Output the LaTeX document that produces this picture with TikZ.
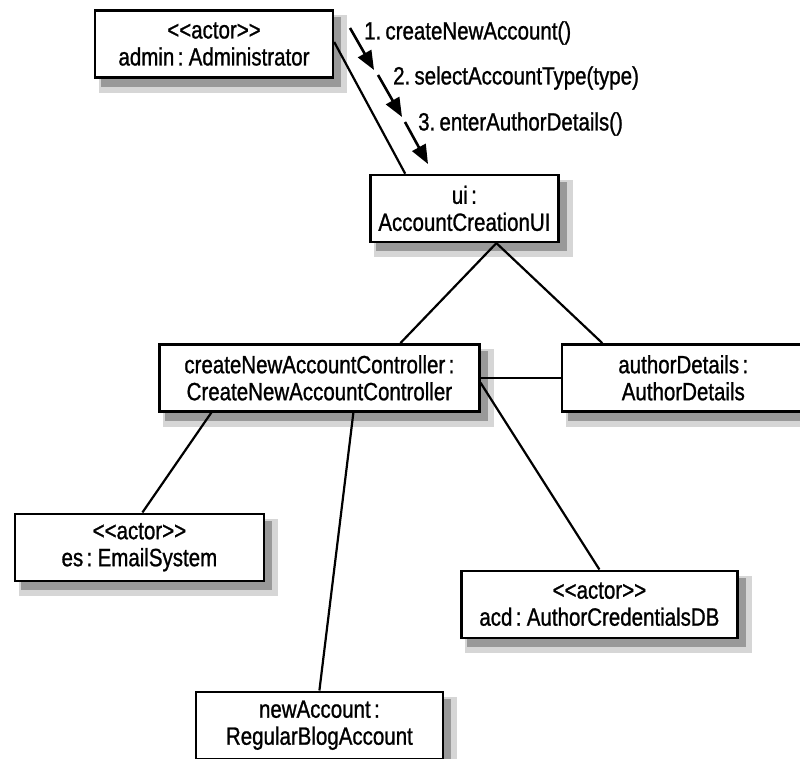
\documentclass[tikz,border=0pt]{standalone}
\usepackage{fontspec}
\setmainfont{Liberation Sans}[FakeStretch=0.82, WordSpace=0.6, FakeBold=1]
\usetikzlibrary{arrows.meta,positioning,calc,backgrounds}

\begin{document}
\begin{tikzpicture}[
  x=1pt, y=1pt,
  font=\fontsize{25}{27}\selectfont,
  obj/.style={draw, line width=2.4pt, fill=white, align=center, inner sep=0pt, minimum height=67pt},
  shade1/.style={fill=black!16, draw=black!16, line width=8pt},
  shade2/.style={fill=black!40},
  link/.style={line width=2.2pt},
  msgarrow/.style={-{Triangle[length=19pt, width=15pt]}, line width=2.6pt},
  msg/.style={inner sep=0pt}
]
\useasboundingbox (0,0) rectangle (800,-758);

\node[obj, minimum width=238pt] (admin) at (214,-44) {{<}{<}actor{>}{>}\\admin : Administrator};
\node[obj, minimum width=188pt, below right=95pt and 35pt of admin] (ui) {ui :\\AccountCreationUI};
\node[obj, minimum width=320pt, below=100pt of ui, xshift=-145pt] (ctrl)
  {createNewAccountController :\\CreateNewAccountController};
\node[obj, minimum width=243pt, right=80pt of ctrl] (details) {authorDetails :\\AuthorDetails};
\node[obj, minimum width=249pt, below=100pt of ctrl, xshift=-180pt] (email) {{<}{<}actor{>}{>}\\es : EmailSystem};
\node[obj, minimum width=276pt, below=157pt of ctrl, xshift=280pt] (creddb) {{<}{<}actor{>}{>}\\acd : AuthorCredentialsDB};
\node[obj, minimum width=247pt, below=278pt of ctrl] (account) {newAccount :\\RegularBlogAccount};

% shadows
\begin{scope}[on background layer]
\foreach \n in {admin,ui,ctrl,details,email,creddb,account} {
  \draw[shade1] ([shift={(9pt,-10pt)}]\n.south west) rectangle ([shift={(9pt,-10pt)}]\n.north east);
  \fill[shade2] ([shift={(7pt,-8pt)}]\n.south west) rectangle ([shift={(7pt,-8pt)}]\n.north east);
}
\end{scope}

\draw[link] ([yshift=2pt]admin.east) -- ([xshift=36pt]ui.north west);
\draw[link] ([xshift=32pt]ui.south) -- ([xshift=81pt]ctrl.north);
\draw[link] ([xshift=32pt]ui.south) -- ([xshift=-81pt]details.north);
\draw[link] (ctrl) -- (details);
\draw[link] ([yshift=-5pt]ctrl.east) -- (creddb.north);
\draw[link] ([xshift=-108pt]ctrl.south) -- ([xshift=3pt]email.north);
\draw[link] ([xshift=34pt]ctrl.south) -- (account.north);

% messages along admin -- ui
\coordinate (m1a) at (350,-28);
\coordinate (m1b) at (374,-70);
\coordinate (m2a) at (378,-75);
\coordinate (m2b) at (402,-117);
\coordinate (m3a) at (405,-122);
\coordinate (m3b) at (428,-164);
\draw[msgarrow] (m1a) -- (m1b);
\draw[msgarrow] (m2a) -- (m2b);
\draw[msgarrow] (m3a) -- (m3b);
\node[msg, anchor=west] (l1) at (364,-33) {1.\,createNewAccount()};
\node[msg, anchor=west] (l2) at (393,-78) {2.\,selectAccountType(type)};
\node[msg, anchor=west] (l3) at (418,-124) {3.\,enterAuthorDetails()};

\end{tikzpicture}
\end{document}
